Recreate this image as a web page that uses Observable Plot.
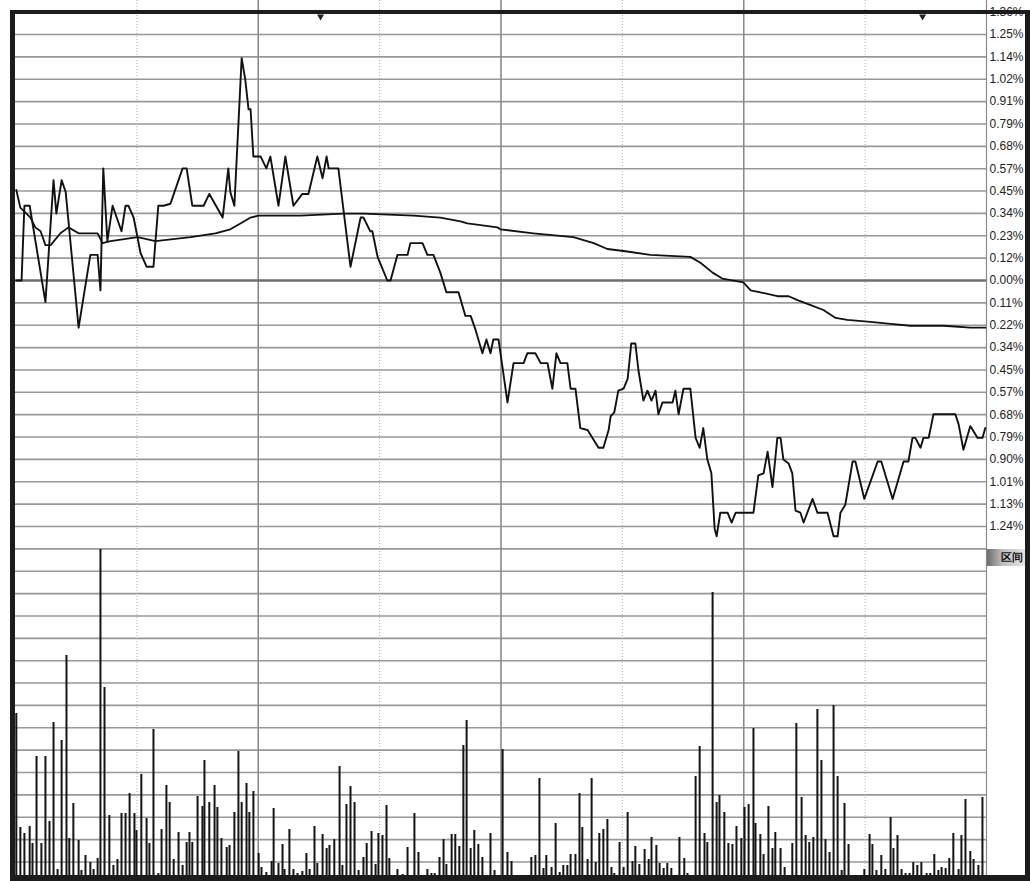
<!DOCTYPE html>
<html><head><meta charset="utf-8">
<script src="https://cdn.jsdelivr.net/npm/d3@7"></script>
<script src="https://cdn.jsdelivr.net/npm/@observablehq/plot@0.6"></script>
<style>
body{margin:0;background:#fff;}
#wrap{position:relative;width:1030px;height:881px;overflow:hidden;background:#fff;font-family:"Liberation Sans",Arial,sans-serif;}
#topPanel,#botPanel{position:absolute;left:0;}
#topPanel{top:0;} #botPanel{top:548px;}
.b{position:absolute;background:#1c1c1c;}
#btn{position:absolute;left:987px;top:549px;width:38px;height:17px;line-height:17px;font-size:11px;font-weight:bold;color:#111;
 background:linear-gradient(to right,#6d6d6d,#bdbdbd 40%,#e6e6e6);padding-left:14px;box-sizing:border-box;white-space:nowrap;overflow:hidden;letter-spacing:-0.5px;}
</style></head><body>
<div id="wrap"><div id="topPanel"></div><div id="botPanel"></div>
<div id="btn">区间</div>
<div class="b" style="left:10px;top:10px;width:5px;height:871px"></div>
<div class="b" style="left:10px;top:10px;width:1020px;height:4px"></div>
<div class="b" style="left:10px;top:875px;width:1020px;height:6px"></div>
<div class="b" style="left:1025px;top:10px;width:5px;height:871px"></div>
</div>
<script>
// ---- data (minute index 0..240, percent change vs previous close) ----
const priceMin = [0.2,1.5,2.2,3.5,7.4,9.4,10.1,11.4,12.4,15.6,18.5,20.3,21.0,21.7,22.7,24.0,26.2,27.2,27.9,29.2,30.9,32.4,34.1,35.3,36.6,38.3,41.3,42.3,43.7,46.5,47.9,51.2,52.6,53.1,54.1,55.9,56.8,57.6,58.1,58.8,60.6,62.0,63.0,65.0,66.7,68.7,70.9,72.4,74.6,75.9,76.9,77.4,79.8,82.8,85.3,86.0,87.7,88.2,89.5,91.9,92.7,94.4,96.9,97.6,100.6,101.8,103.3,105.0,106.5,109.5,111.2,112.5,113.7,115.4,116.4,117.4,118.1,119.4,121.6,123.1,125.6,126.5,128.5,129.8,131.5,132.7,133.7,134.7,136.4,137.2,138.4,139.6,141.4,144.1,145.3,146.6,147.1,148.0,149.0,150.3,151.3,152.2,153.2,154.0,155.2,156.2,157.2,158.2,158.9,159.9,162.4,163.1,163.9,165.1,166.8,168.1,169.1,170.0,171.0,172.0,172.8,173.3,174.2,176.0,177.0,178.0,182.4,183.6,184.9,185.9,187.1,188.3,189.1,189.8,191.1,192.0,192.8,194.0,194.8,197.0,198.2,200.7,202.2,203.2,203.9,205.1,206.9,207.6,209.8,213.1,214.0,216.8,219.5,220.7,221.7,222.4,223.7,224.4,225.7,226.9,232.3,233.1,234.3,236.0,237.8,239.0,239.7];
const pricePct = [0.00,0.00,0.38,0.38,-0.11,0.51,0.34,0.51,0.45,-0.24,0.13,0.13,-0.05,0.57,0.20,0.38,0.25,0.38,0.38,0.32,0.14,0.07,0.07,0.38,0.38,0.39,0.57,0.57,0.38,0.38,0.44,0.32,0.57,0.45,0.38,1.13,1.02,0.87,0.87,0.63,0.63,0.57,0.63,0.38,0.63,0.38,0.44,0.44,0.63,0.52,0.63,0.57,0.57,0.07,0.32,0.32,0.25,0.25,0.12,0.00,0.00,0.13,0.13,0.19,0.19,0.13,0.13,0.04,-0.06,-0.06,-0.18,-0.18,-0.25,-0.37,-0.30,-0.37,-0.30,-0.30,-0.62,-0.42,-0.42,-0.37,-0.37,-0.42,-0.42,-0.55,-0.37,-0.42,-0.42,-0.55,-0.55,-0.75,-0.76,-0.85,-0.85,-0.76,-0.69,-0.67,-0.56,-0.55,-0.50,-0.32,-0.32,-0.46,-0.61,-0.56,-0.61,-0.56,-0.68,-0.62,-0.62,-0.56,-0.68,-0.55,-0.55,-0.80,-0.85,-0.75,-0.91,-0.98,-1.26,-1.30,-1.18,-1.18,-1.23,-1.18,-1.18,-0.99,-0.98,-0.87,-1.05,-0.80,-0.80,-0.91,-0.93,-0.98,-1.17,-1.18,-1.23,-1.11,-1.18,-1.18,-1.30,-1.30,-1.18,-1.14,-0.92,-0.92,-1.11,-0.92,-0.92,-1.11,-0.92,-0.92,-0.80,-0.80,-0.85,-0.80,-0.80,-0.68,-0.68,-0.73,-0.86,-0.74,-0.80,-0.80,-0.75];

const avgMin = [0.2,1.2,3.7,4.9,6.2,7.4,8.7,11.1,13.1,15.6,20.3,21.5,23.5,30.2,34.6,43.3,49.4,53.1,55.6,58.1,60.1,70.4,81.1,86.0,98.4,105.0,110.0,111.7,119.1,119.9,128.0,137.9,142.9,146.3,150.3,156.9,166.8,169.3,172.3,174.7,179.9,181.7,184.1,188.3,191.1,193.3,197.2,199.7,202.7,205.6,211.3,216.3,221.2,229.4,236.0,239.7];
const avgPct = [0.46,0.37,0.32,0.27,0.25,0.18,0.18,0.24,0.27,0.24,0.24,0.19,0.20,0.22,0.20,0.22,0.24,0.26,0.29,0.32,0.33,0.33,0.34,0.34,0.33,0.32,0.30,0.29,0.27,0.26,0.24,0.22,0.19,0.16,0.15,0.13,0.12,0.09,0.04,0.01,-0.01,-0.05,-0.06,-0.08,-0.08,-0.10,-0.13,-0.15,-0.19,-0.20,-0.21,-0.22,-0.23,-0.23,-0.24,-0.24];

const volMin = [0.2,1.2,2.2,3.5,4.2,5.2,6.4,7.4,8.4,9.4,10.4,11.4,12.6,13.3,14.3,15.6,16.3,17.3,18.5,19.3,20.3,21.0,22.0,23.2,24.2,25.2,26.2,27.2,28.2,29.4,29.9,31.1,32.4,33.1,34.1,35.3,36.1,37.3,38.1,39.1,40.3,41.3,42.3,43.0,43.7,45.0,46.2,46.7,47.9,49.2,49.9,50.9,52.2,52.9,54.1,55.1,55.9,57.1,57.8,58.8,60.1,60.8,62.0,63.3,63.8,65.0,66.0,66.5,67.7,68.7,69.7,70.9,71.9,72.7,73.9,74.6,75.9,76.9,77.6,78.8,80.1,80.8,81.8,82.8,83.8,84.8,86.0,86.8,88.0,89.0,89.7,90.7,91.7,92.4,94.4,95.7,96.9,98.6,99.6,101.8,102.8,103.6,104.8,105.8,106.5,107.8,108.7,109.7,110.7,111.5,112.5,113.4,114.4,115.4,117.4,118.4,120.4,121.6,122.6,127.5,128.5,129.5,130.5,131.2,132.5,133.5,134.5,135.4,136.4,137.2,138.4,139.4,140.1,141.4,142.4,143.4,144.3,145.3,146.3,147.3,148.0,149.3,150.3,151.3,152.5,153.2,154.2,155.5,156.5,157.2,158.4,159.2,160.2,161.1,162.1,164.1,165.3,166.1,168.1,169.1,170.3,171.0,172.3,173.3,174.0,175.2,176.2,177.2,178.2,179.4,180.2,181.2,182.4,182.9,184.1,184.9,186.1,187.1,187.8,189.1,190.1,192.0,193.0,194.3,195.3,196.2,197.2,198.2,199.2,200.2,201.2,202.2,203.2,204.2,204.9,205.9,209.8,211.1,211.8,212.8,214.0,215.0,216.3,217.0,218.0,219.0,220.0,221.0,221.9,222.9,223.9,225.2,226.1,227.1,228.1,228.9,229.9,230.8,231.8,233.1,233.8,234.8,236.0,236.8,238.0,239.0];
const volVal = [1620,480,420,490,320,1190,320,1190,540,1530,60,1350,2200,370,720,350,50,200,130,60,170,3260,1880,600,100,160,620,620,820,620,450,1010,570,320,1460,20,460,900,730,160,430,100,330,430,330,790,690,1150,730,900,680,370,280,300,630,1240,730,920,630,840,220,80,30,140,670,120,310,60,460,60,20,40,220,60,490,120,410,270,300,360,1090,100,710,890,730,50,180,320,440,110,420,400,700,170,60,10,280,620,230,60,20,20,180,360,110,410,410,290,1300,1550,270,450,310,180,420,50,1260,230,140,180,200,970,70,200,80,520,30,100,100,210,210,820,480,160,970,130,420,460,560,80,20,330,80,630,140,290,110,260,160,380,300,120,70,120,70,380,170,20,990,1290,420,330,2830,730,800,630,320,310,490,370,680,710,1470,520,410,210,690,270,430,270,80,320,1520,780,400,330,380,1660,1150,360,230,1700,990,50,720,310,60,410,310,50,200,60,580,270,400,60,20,20,130,100,130,20,20,210,50,80,70,170,420,60,400,760,240,160,100,780];

const yLabels = ["1.36%","1.25%","1.14%","1.02%","0.91%","0.79%","0.68%","0.57%","0.45%","0.34%","0.23%","0.12%","0.00%","0.11%","0.22%","0.34%","0.45%","0.57%","0.68%","0.79%","0.90%","1.01%","1.13%","1.24%"];
const solidMins = [60, 120, 180];
const dotMins = [30, 90, 150, 210];
const markerMins = [75.4, 224.2];

(function () {
  // ---- layout ----
  const stepPct = 0.11364;          // one grid row in percent
  const topH = 548, zeroRowPx = 280, rowPx = 22.36;
  const pxPerPct = rowPx / stepPct;
  const yMax = zeroRowPx / pxPerPct, yMin = -(topH - zeroRowPx) / pxPerPct;
  const botH = 333, botMB = 6;
  const volMax = 3270;
  const volPerPx = volMax / (botH - botMB);
  const volRow = rowPx * volPerPx;

  const price = priceMin.map((m, i) => ({m, p: pricePct[i]}));
  const avg = avgMin.map((m, i) => ({m, p: avgPct[i]}));
  const vol = volMin.map((m, i) => ({m, v: volVal[i]}));
  const yTicks = yLabels.map((label, i) => ({v: (12 - i) * stepPct, label, zero: label === "0.00%"}));
  const volGrid = d3.range(15).map(k => (volMax - 0.4 * volPerPx) - k * volRow);

  const common = {width: 1030, marginLeft: 15, marginRight: 44, x: {domain: [0, 240], axis: null},
    style: {background: "transparent", overflow: "visible"}};
  const gridColor = "#989898";

  const topChart = Plot.plot({
    ...common, height: topH, marginTop: 0, marginBottom: 0,
    y: {domain: [yMin, yMax], axis: null},
    marks: [
      Plot.ruleY(yTicks.filter(d => !d.zero), {y: "v", stroke: gridColor, strokeWidth: 1.6}),
      Plot.ruleX(dotMins, {stroke: "#b0b0b0", strokeWidth: 1, strokeDasharray: "1,2"}),
      Plot.ruleX(solidMins, {stroke: "#8a8a8a", strokeWidth: 1.6}),
      Plot.ruleX([240], {stroke: "#8a8a8a", strokeWidth: 1.2}),
      Plot.ruleY(yTicks.filter(d => d.zero), {y: "v", stroke: "#6f6f6f", strokeWidth: 2.6}),
      Plot.line(avg, {x: "m", y: "p", stroke: "#111", strokeWidth: 1.8}),
      Plot.line(price, {x: "m", y: "p", stroke: "#111", strokeWidth: 1.9}),
      Plot.dot(markerMins, {x: d => d, frameAnchor: "top", dy: 16, symbol: "triangle", r: 2.6, fill: "#222", stroke: "none", rotate: 180}),
      Plot.text(yTicks, {y: "v", text: "label", frameAnchor: "right", dx: 3, textAnchor: "start", fontSize: 12, fill: "#222",
        fontWeight: d => d.zero ? "bold" : "normal", fontFamily: "Liberation Sans, Arial, sans-serif"})
    ]
  });
  document.getElementById("topPanel").appendChild(topChart);

  const botChart = Plot.plot({
    ...common, height: botH, marginTop: 0, marginBottom: botMB,
    y: {domain: [0, volMax], axis: null},
    marks: [
      Plot.ruleY(volGrid, {stroke: gridColor, strokeWidth: 1.6}),
      Plot.ruleX(dotMins, {stroke: "#b0b0b0", strokeWidth: 1, strokeDasharray: "1,2"}),
      Plot.ruleX(solidMins, {stroke: "#8a8a8a", strokeWidth: 1.6}),
      Plot.ruleX([240], {stroke: "#8a8a8a", strokeWidth: 1.2}),
      Plot.ruleX(vol, {x: "m", y1: 0, y2: "v", stroke: "#141414", strokeWidth: 2})
    ]
  });
  document.getElementById("botPanel").appendChild(botChart);
})();
</script>
</body></html>
